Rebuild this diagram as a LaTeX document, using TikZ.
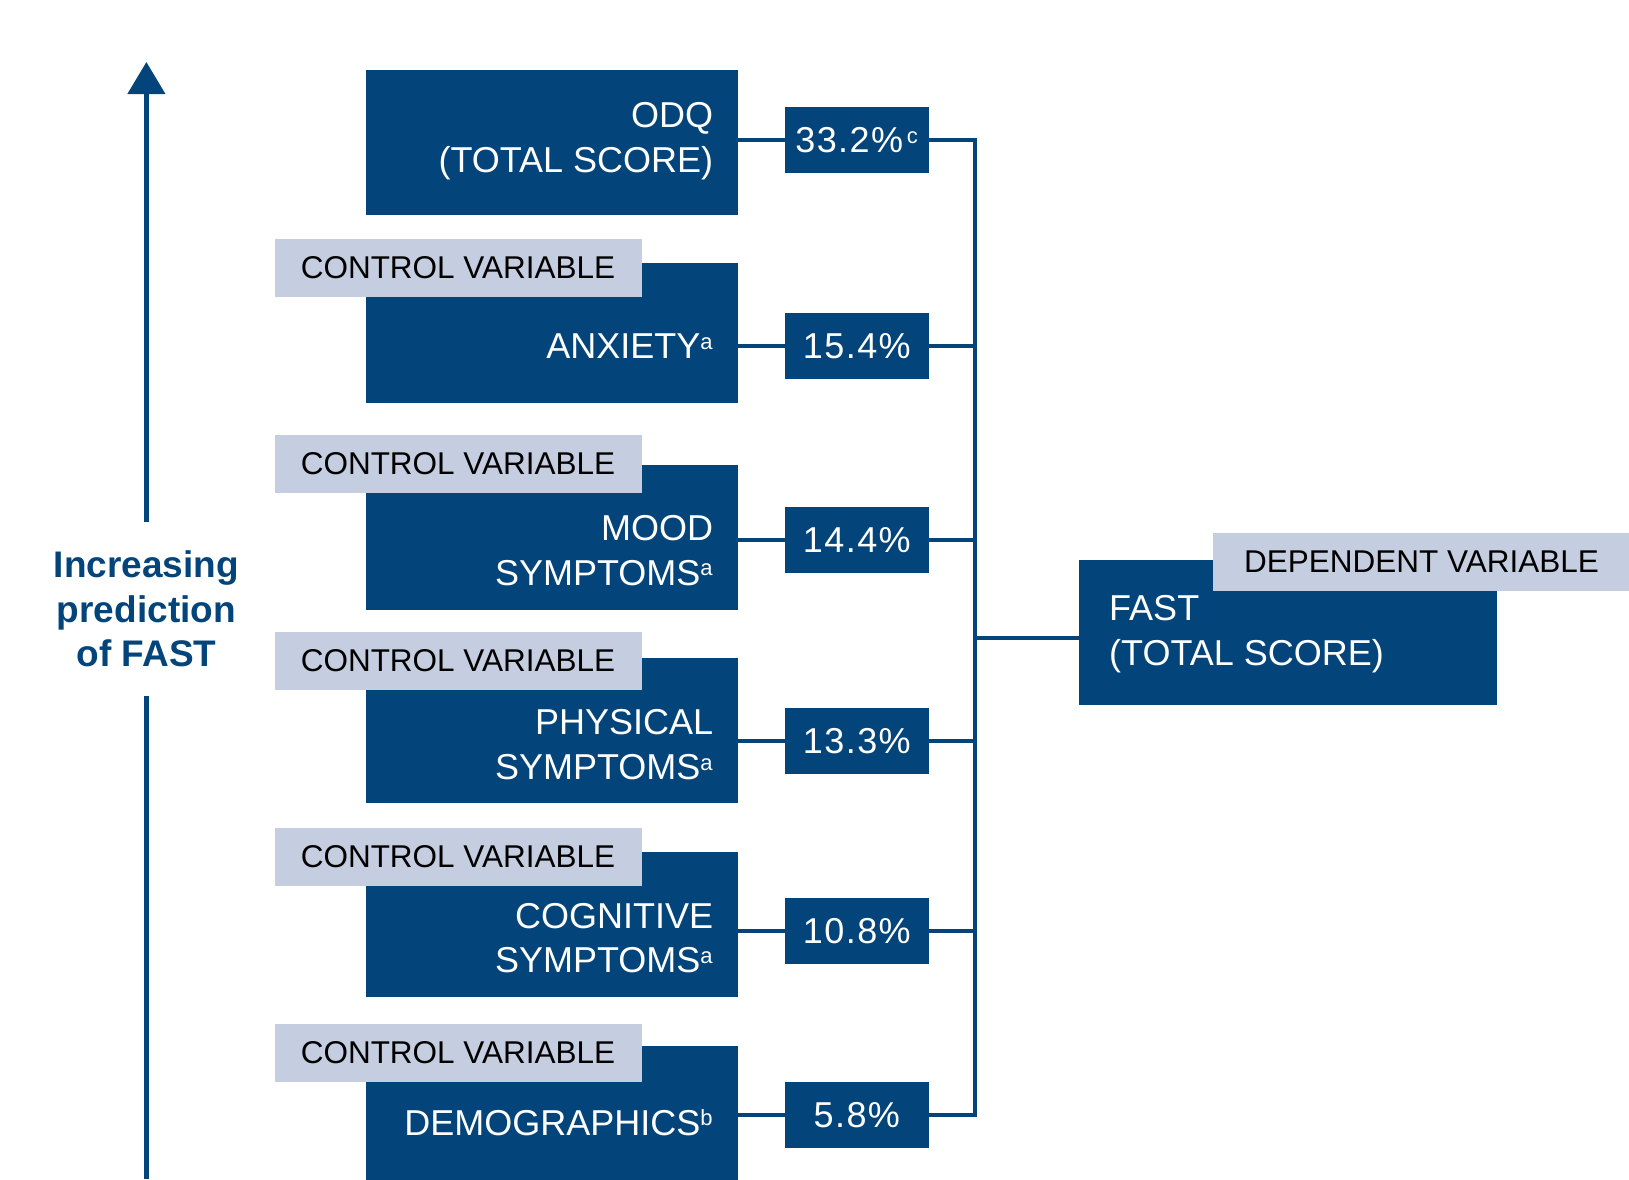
\documentclass[tikz,border=0pt]{standalone}
\usepackage{fontspec}
\setmainfont{Liberation Sans}
\usetikzlibrary{arrows.meta}

\definecolor{fastblue}{RGB}{3,68,122}
\definecolor{lblgrey}{RGB}{197,206,224}
\newcommand\supnote[1]{\textsuperscript{\fontsize{22}{22}\selectfont #1}}

\tikzset{
  varbox/.style={fill=fastblue, anchor=north west, minimum width=372pt, minimum height=145pt, inner sep=0pt},
  vartext/.style={text=white, anchor=base east, align=right, inner sep=0pt, font=\fontsize{36}{44.6}\selectfont},
  lblbox/.style={fill=lblgrey, text=black, anchor=north west, minimum width=367pt, minimum height=57.5pt, inner sep=0pt, font=\fontsize{31.5}{36}\selectfont},
  pctbox/.style={fill=fastblue, text=white, anchor=north west, minimum width=143.3pt, minimum height=65.7pt, inner sep=0pt, font=\fontsize{36}{40}\selectfont\addfontfeature{LetterSpace=4}},
  conn/.style={draw=fastblue, line width=4pt},
  trendline/.style={draw=fastblue, line width=4.5pt},
  trend/.style={text=fastblue, anchor=base, align=center, inner xsep=0pt, inner ysep=29pt, font=\bfseries\fontsize{37}{44.5}\selectfont},
}

\begin{document}
\begin{tikzpicture}[x=1pt,y=-1pt]
  \useasboundingbox (0,0) rectangle (1629,1179);

  % left arrow
  \node[trend] (trend) at (146.4,666.7) {Increasing\\prediction\\of FAST};
  \coordinate (arrtip) at (146.4,62);
  \coordinate (arrfoot) at (146.4,1179);
  \draw[trendline, -{Triangle[width=37pt,length=32pt]}] (trend.north) -- (arrtip);
  \draw[trendline] (trend.south) -- (arrfoot);

  % predictor boxes
  \node[varbox] (odqbox) at (366,70) {};
  \node[varbox, minimum height=140pt] (anxbox) at (366,263) {};
  \node[varbox] (moodbox) at (366,465) {};
  \node[varbox] (physbox) at (366,658) {};
  \node[varbox] (cogbox) at (366,852) {};
  \node[varbox] (demobox) at (366,1046) {};

  \node[lblbox] (anxlbl) at (274.3,239) {CONTROL VARIABLE};
  \node[lblbox] (moodlbl) at (274.3,435) {CONTROL VARIABLE};
  \node[lblbox] (physlbl) at (274.3,632) {CONTROL VARIABLE};
  \node[lblbox] (coglbl) at (274.3,828) {CONTROL VARIABLE};
  \node[lblbox] (demolbl) at (274.3,1024) {CONTROL VARIABLE};

  % base = last line
  \node[vartext] (odqtxt) at (713.4,172.3) {ODQ\\(TOTAL SCORE)};
  \node[vartext] (anxtxt) at (713.4,358.3) {ANXIETY\supnote{a}};
  \node[vartext] (moodtxt) at (713.4,585) {MOOD\\SYMPTOMS\supnote{a}};
  \node[vartext] (phystxt) at (713.4,779.3) {PHYSICAL\\SYMPTOMS\supnote{a}};
  \node[vartext] (cogtxt) at (713.4,972.7) {COGNITIVE\\SYMPTOMS\supnote{a}};
  \node[vartext] (demotxt) at (713.4,1135) {DEMOGRAPHICS\supnote{b}};

  % explained variance
  \node[pctbox] (odqpct) at (785,107) {33.2\%\supnote{\,c}};
  \node[pctbox] (anxpct) at (785,313) {15.4\%};
  \node[pctbox] (moodpct) at (785,507) {14.4\%};
  \node[pctbox] (physpct) at (785,708) {13.3\%};
  \node[pctbox] (cogpct) at (785,898) {10.8\%};
  \node[pctbox] (demopct) at (785,1082) {5.8\%};

  % dependent variable
  \node[varbox, minimum width=418.2pt, minimum height=144.7pt] (fastbox) at (1078.8,560) {};
  \node[lblbox, minimum width=417pt, minimum height=57.7pt] (deplbl) at (1212.8,533) {DEPENDENT VARIABLE};
  \node[vartext, anchor=base west, align=left] (fasttxt) at (1109,665) {FAST\\(TOTAL SCORE)};

  % connectors
  \coordinate (bus) at (975,0);
  \coordinate (fastjoin) at (975,638.3);
  \draw[conn] (odqbox.east |- odqpct.west) -- (odqpct.west);
  \draw[conn] (anxbox.east |- anxpct.west) -- (anxpct.west);
  \draw[conn] (moodbox.east |- moodpct.west) -- (moodpct.west);
  \draw[conn] (physbox.east |- physpct.west) -- (physpct.west);
  \draw[conn] (cogbox.east |- cogpct.west) -- (cogpct.west);
  \draw[conn] (demobox.east |- demopct.west) -- (demopct.west);
  \draw[conn] (odqpct.east) -| (bus |- demopct.east) -- (demopct.east);
  \draw[conn] (anxpct.east) -- (anxpct.east -| bus);
  \draw[conn] (moodpct.east) -- (moodpct.east -| bus);
  \draw[conn] (physpct.east) -- (physpct.east -| bus);
  \draw[conn] (cogpct.east) -- (cogpct.east -| bus);
  \draw[conn] (fastjoin) -- (fastjoin -| fastbox.west);
\end{tikzpicture}
\end{document}
